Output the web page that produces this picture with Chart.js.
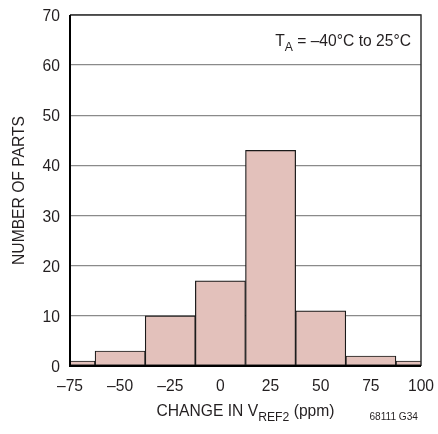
<!DOCTYPE html>
<html>
<head>
<meta charset="utf-8">
<script src="https://cdn.jsdelivr.net/npm/chart.js@4/dist/chart.umd.min.js"></script>
<style>
  html, body { margin: 0; padding: 0; background: #fff; }
  #wrap { width: 438px; height: 434px; }
</style>
</head>
<body>
<div id="wrap"><canvas id="c" width="438" height="434"></canvas></div>
<script>
// histogram data
const binCenters = [-75, -50, -25, 0, 25, 50, 75, 100];
const partCounts = [1, 3, 10, 17, 43, 11, 2, 1];
const xTicks = [-75, -50, -25, 0, 25, 50, 75, 100];
const yTicks = [0, 10, 20, 30, 40, 50, 60, 70];

const FONT = "'Liberation Sans', Arial, sans-serif";
const INK = "#231f20";
const SX = 0.92; // the original uses a narrow sans

function fmtTick(v) {
  return v < 0 ? "\u2013" + Math.abs(v) : String(v);
}

// text drawn with a slight horizontal squeeze; parts may carry a subscript
function partsWidth(ctx, parts, size) {
  let w = 0;
  parts.forEach(p => {
    ctx.font = (p.sub ? size * 0.78 : size) + "px " + FONT;
    w += ctx.measureText(p.t).width;
  });
  return w * SX;
}
function drawParts(ctx, parts, x, y, size, align) {
  const w = partsWidth(ctx, parts, size);
  let start = x;
  if (align === "center") start = x - w / 2;
  if (align === "right") start = x - w;
  ctx.save();
  ctx.translate(start, y);
  ctx.scale(SX, 1);
  ctx.textAlign = "left";
  let cx = 0;
  parts.forEach(p => {
    const s = p.sub ? size * 0.78 : size;
    ctx.font = s + "px " + FONT;
    ctx.fillText(p.t, cx, p.sub ? size * 0.3 : 0);
    cx += ctx.measureText(p.t).width;
  });
  ctx.restore();
}

const framePlugin = {
  id: "frame",
  afterDatasetsDraw(chart) {
    const { ctx, chartArea: a } = chart;
    const xs = chart.scales.x, ys = chart.scales.y;
    ctx.save();
    // top and right edges
    ctx.strokeStyle = "#333";
    ctx.lineWidth = 1.5;
    ctx.beginPath();
    ctx.moveTo(a.left, a.top);
    ctx.lineTo(a.right, a.top);
    ctx.lineTo(a.right, a.bottom);
    ctx.stroke();
    // left and bottom axes
    ctx.strokeStyle = "#000";
    ctx.lineWidth = 2;
    ctx.beginPath();
    ctx.moveTo(a.left, a.top);
    ctx.lineTo(a.left, a.bottom);
    ctx.lineTo(a.right, a.bottom);
    ctx.stroke();

    ctx.fillStyle = INK;
    ctx.textBaseline = "alphabetic";

    // tick labels
    xs.ticks.forEach(t => {
      drawParts(ctx, [{ t: fmtTick(t.value) }], xs.getPixelForValue(t.value), a.bottom + 25, 17, "center");
    });
    ys.ticks.forEach(t => {
      drawParts(ctx, [{ t: fmtTick(t.value) }], a.left - 10, ys.getPixelForValue(t.value) + 6, 17, "right");
    });

    // annotation
    drawParts(ctx, [{ t: "T" }, { t: "A", sub: true }, { t: " = \u201340\u00b0C to 25\u00b0C" }],
      a.right - 10, 46, 17, "right");

    // x title
    drawParts(ctx, [{ t: "CHANGE IN V" }, { t: "REF2", sub: true }, { t: " (ppm)" }],
      (a.left + a.right) / 2, 416, 17, "center");

    // y title
    ctx.save();
    ctx.translate(24, (a.top + a.bottom) / 2);
    ctx.rotate(-Math.PI / 2);
    drawParts(ctx, [{ t: "NUMBER OF PARTS" }], 0, 0, 17, "center");
    ctx.restore();

    // figure id
    drawParts(ctx, [{ t: "68111 G34" }], 418, 420, 11, "right");
    ctx.restore();
  }
};

new Chart(document.getElementById("c"), {
  type: "bar",
  data: {
    datasets: [{
      data: binCenters.map((x, i) => ({ x: x, y: partCounts[i] })),
      backgroundColor: "#e3c1bb",
      borderColor: "#1a1a1a",
      borderWidth: 1.2,
      borderSkipped: false,
      barPercentage: 1,
      categoryPercentage: 1,
      clip: 0
    }]
  },
  options: {
    responsive: false,
    animation: false,
    events: [],
    layout: { padding: { left: 0, right: 17, top: 15, bottom: 0 } },
    plugins: { legend: { display: false }, tooltip: { enabled: false } },
    scales: {
      x: {
        type: "linear",
        min: -75,
        max: 100,
        offset: false,
        afterBuildTicks: s => { s.ticks = xTicks.map(v => ({ value: v })); },
        afterFit: s => { s.height = 68; s.paddingLeft = 0; s.paddingRight = 0; },
        grid: { display: false, drawTicks: false },
        border: { display: false },
        ticks: { display: false }
      },
      y: {
        min: 0,
        max: 70,
        afterBuildTicks: s => { s.ticks = yTicks.map(v => ({ value: v })); },
        afterFit: s => { s.width = 70; s.paddingTop = 0; s.paddingBottom = 0; },
        grid: { color: "#8a8a8a", lineWidth: 1.3, drawTicks: false },
        border: { display: false },
        ticks: { display: false }
      }
    }
  },
  plugins: [framePlugin]
});
</script>
</body>
</html>
